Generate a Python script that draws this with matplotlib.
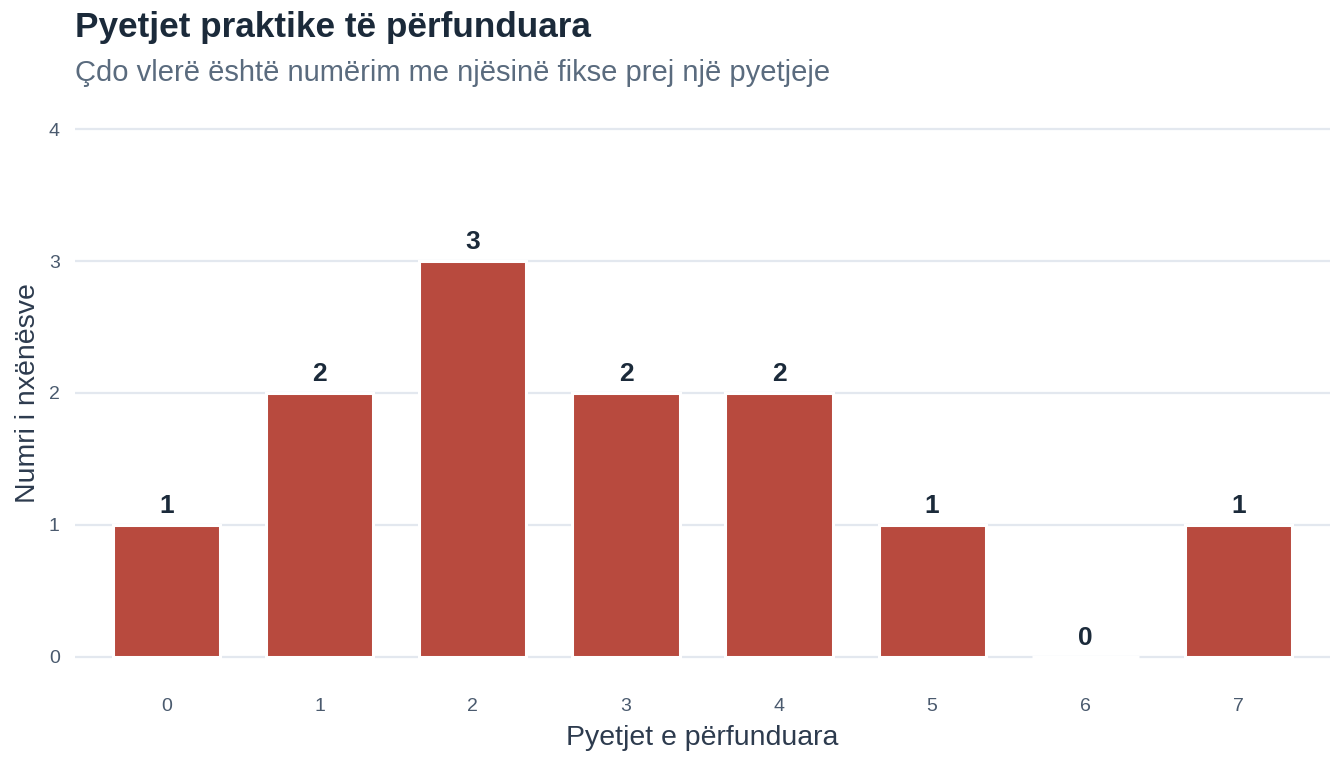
import matplotlib
matplotlib.use("Agg")
import matplotlib.pyplot as plt

# data
questions = [0, 1, 2, 3, 4, 5, 6, 7]
students = [1, 2, 3, 2, 2, 1, 0, 1]
yticks = [0, 1, 2, 3, 4]

bar_color = "#B84A3E"
dark = "#1B2A3A"
grey = "#4A5A6E"
sub_grey = "#5A6B7E"
grid_col = "#E3E8EF"

plt.rcParams['font.family'] = ['Liberation Sans', 'DejaVu Sans']

fig = plt.figure(figsize=(13.44, 7.68), dpi=100)
ax = fig.add_axes([0.0558, 0.136, 0.9338, 0.7046])

ax.bar(questions, students, width=0.7, color=bar_color,
       edgecolor="white", linewidth=2.2, zorder=2)

# count labels; the zero one gets a white box over the gridline
for x, v in zip(questions, students):
    ax.text(x, v + 0.05, str(v), ha="center", va="bottom",
            fontsize=19, fontweight="bold", color=dark, zorder=4,
            bbox=dict(boxstyle="square,pad=0.15", fc="white", ec="none") if v == 0 else None)

ax.set_xlim(-0.6, 7.6)
ax.set_ylim(-0.05, 4.05)
ax.set_xticks(questions)
ax.set_yticks(yticks)
ax.yaxis.grid(True, color=grid_col, linewidth=1.6, zorder=0)
ax.xaxis.grid(False)
ax.set_axisbelow(True)
for s in ax.spines.values():
    s.set_visible(False)
ax.tick_params(length=0, labelsize=14, colors=grey)
ax.tick_params(axis="x", pad=25)
ax.tick_params(axis="y", pad=11)

ax.set_xlabel("Pyetjet e përfunduara", fontsize=20.5, color="#2D3B4E")
ax.set_ylabel("Numri i nxënësve", fontsize=20.5, color="#2D3B4E")
ax.xaxis.set_label_coords(0.5, (663.6 - 738) / 540.9)
ax.yaxis.set_label_coords((28 - 75) / 1255.0, 0.5)
ax.xaxis.label.set_va("center")
ax.yaxis.label.set_va("center")

fig.text(0.0558, 1 - 28 / 768, "Pyetjet praktike të përfunduara", fontsize=25.3,
         fontweight="bold", color=dark, ha="left", va="center")
fig.text(0.0558, 1 - 73 / 768, "Çdo vlerë është numërim me njësinë fikse prej një pyetjeje",
         fontsize=21, color=sub_grey, ha="left", va="center")

fig.savefig("out.png", dpi=100)
